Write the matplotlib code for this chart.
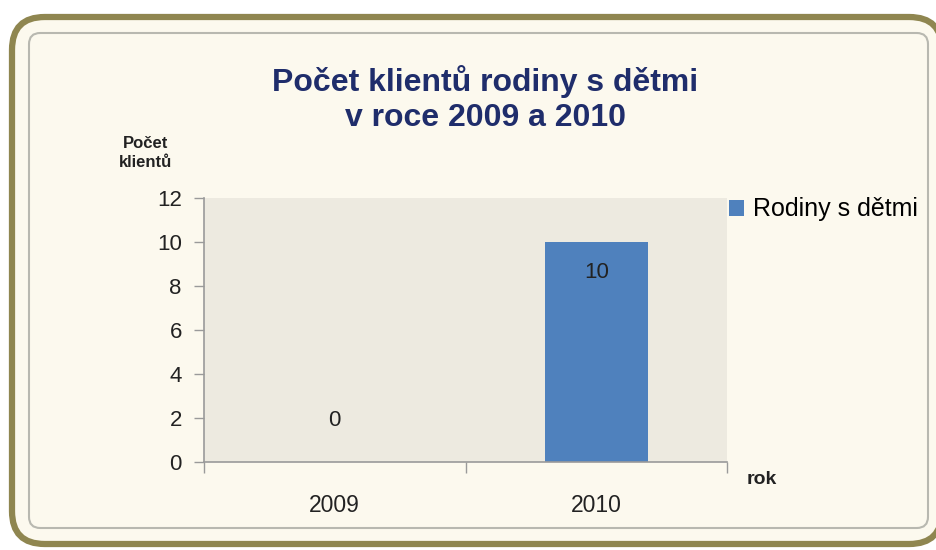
import matplotlib.pyplot as plt
from matplotlib.patches import FancyBboxPatch

plt.rcParams['font.family'] = ['Liberation Sans', 'DejaVu Sans']

years = ['2009', '2010']
values = [0, 10]
series_name = 'Rodiny s dětmi'

bg = '#fcf9ee'
fig = plt.figure(figsize=(9.36, 5.5), dpi=100)
fig.patch.set_facecolor('white')

# outer olive frame and inner thin gray frame
outer = FancyBboxPatch((12 / 936, 6 / 550), 930 / 936, 527 / 550,
                       boxstyle='round,pad=0,rounding_size=0.035',
                       transform=fig.transFigure, facecolor=bg,
                       edgecolor='#8f8650', linewidth=4.5, mutation_aspect=936 / 550,
                       zorder=-10)
fig.patches.append(outer)
inner = FancyBboxPatch((29 / 936, 22 / 550), 899 / 936, 495 / 550,
                       boxstyle='round,pad=0,rounding_size=0.012',
                       transform=fig.transFigure, facecolor=bg,
                       edgecolor='#b8b8b0', linewidth=1.5, mutation_aspect=936 / 550,
                       zorder=-9)
fig.patches.append(inner)

ax = fig.add_axes([204 / 936, 1 - 462 / 550, 523 / 936, 264 / 550])
ax.set_zorder(5)
ax.set_facecolor('#edeae0')

x = range(len(years))
bars = ax.bar(x, values, width=0.395, color='#4f81bd', label=series_name, zorder=2)

ax.set_xlim(-0.5, 1.5)
ax.set_ylim(0, 12)
ax.set_yticks(range(0, 13, 2))
ax.set_xticks([-0.5, 0.5, 1.5], minor=False)
ax.set_xticklabels([])
ax.set_xticks(list(x), minor=True)
ax.set_xticklabels(years, minor=True)
ax.tick_params(axis='x', which='major', length=8, color='#9a9a9a', width=1)
ax.tick_params(axis='x', which='minor', length=0, pad=23, labelsize=16.5, labelcolor='#222222')
ax.tick_params(axis='y', length=7, color='#9a9a9a', width=1, pad=9, labelsize=16, labelcolor='#222222')

for side in ['top', 'right']:
    ax.spines[side].set_visible(False)
for side in ['left', 'bottom']:
    ax.spines[side].set_color('#9a9a9a')
    ax.spines[side].set_linewidth(1.2)

# data labels (offsets in points)
offsets = [30, -22]
for xi, v, off in zip(x, values, offsets):
    ax.annotate(str(v), (xi, v), xytext=(0, off), textcoords='offset points',
                ha='center', va='center', fontsize=16, color='#222222')

fig.text(485 / 936, 1 - 99 / 550, 'Počet klientů rodiny s dětmi\nv roce 2009 a 2010',
         ha='center', va='center', fontsize=23, fontweight='bold', color='#1f2d6b',
         linespacing=1.25)
fig.text(146 / 936, 1 - 153 / 550, 'Počet\nklientů', ha='center', va='center',
         fontsize=12, fontweight='bold', color='#222222', linespacing=1.3)
fig.text(762 / 936, 1 - 480 / 550, 'rok', ha='center', va='center',
         fontsize=14, fontweight='bold', color='#222222')

ax.legend(loc='upper left', bbox_to_anchor=(0.985, 1.04), frameon=False,
          fontsize=18, handlelength=0.6, handleheight=0.6, handletextpad=0.35,
          borderaxespad=0)

fig.savefig('out.png', dpi=100, facecolor='white')
